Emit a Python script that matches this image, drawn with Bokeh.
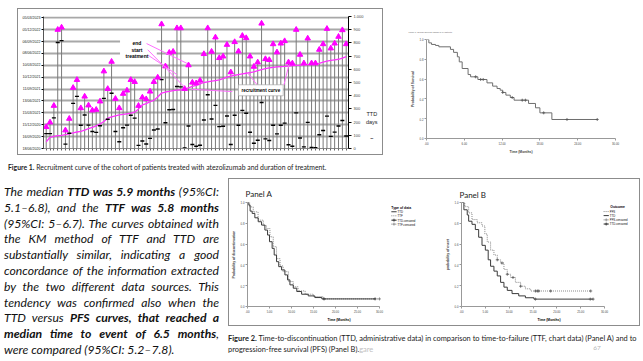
from bokeh.plotting import figure
from bokeh.models import FixedTicker, LinearAxis, Label, BoxAnnotation, Div, ColumnDataSource, Spacer, Title
from bokeh.layouts import row, column
from bokeh.embed import file_html
from bokeh.resources import INLINE

# ---------------- Figure 1: recruitment curve / duration of treatment ----------------
patient = list(range(1, 80))
start_day = [50, 85, 92, 97, 100, 105, 110, 118, 125, 130,
             140, 150, 160, 172, 185, 205, 230, 240, 248, 255,
             258, 263, 268, 275, 300, 330, 340, 355, 365, 390,
             420, 428, 432, 438, 442, 445, 450, 460, 470, 478,
             490, 500, 505, 510, 515, 520, 530, 540, 548, 555,
             560, 565, 570, 575, 580, 590, 598, 605, 610, 615,
             618, 620, 622, 625, 628, 630, 632, 634, 636, 638,
             640, 645, 655, 662, 667, 672, 676, 685, 696]
end_day = [163, 198, 324, 900, 917, 138, 226, 460, 520, 306,
           394, 327, 289, 294, 357, 585, 452, 658, 377, 306,
           415, 440, 520, 505, 324, 387, 374, 432, 505, 538,
           942, 623, 726, 734, 912, 912, 452, 631, 500, 495,
           515, 716, 912, 734, 842, 686, 698, 786, 578, 807,
           736, 854, 837, 698, 620, 653, 947, 678, 671, 791,
           729, 796, 814, 653, 645, 900, 711, 646, 834, 646,
           646, 749, 791, 907, 759, 796, 847, 897, 791]
ttd_day = [113, 113, 232, 803, 817, 33, 116, 342, 395, 176,
           254, 177, 129, 122, 172, 380, 222, 418, 129, 51,
           157, 177, 252, 230, 24, 57, 34, 77, 140, 148,
           522, 195, 294, 296, 470, 467, 5, 171, 30, 17,
           25, 216, 407, 224, 327, 166, 168, 246, 30, 252,
           176, 289, 267, 123, 40, 63, 349, 73, 61, 176,
           111, 176, 192, 28, 17, 270, 79, 12, 198, 8,
           6, 104, 136, 245, 92, 124, 171, 212, 95]
date_ticks = [0, 90, 180, 270, 360, 450, 540, 630, 720, 810, 900, 990]
date_labels = ["18/06/2020", "16/09/2020", "15/12/2020", "15/03/2021", "13/06/2021", "11/09/2021",
               "10/12/2021", "10/03/2022", "08/06/2022", "06/09/2022", "05/12/2022", "05/03/2023"]
day_ticks = [0, 100, 200, 300, 400, 500, 600, 700, 800, 900, 1000]
day_labels = ["0", "100", "200", "300", "400", "500", "600", "700", "800", "900", "1.000"]

# ---------------- Overall survival Kaplan-Meier (74 patients) ----------------
km_t = [0, 0.37, 0.8, 1.43, 1.96, 3.8, 4.3, 4.9, 5.2, 5.66, 6.6, 7.0, 8.15, 9.6, 10.5,
        11.2, 11.7, 12.1, 12.6, 13.3, 13.9, 16.2, 17.3, 18.0, 19.9]
km_s = [1.0, 0.966, 0.95, 0.94, 0.926, 0.90, 0.87, 0.825, 0.774, 0.707, 0.646, 0.623, 0.596, 0.562, 0.529,
        0.505, 0.488, 0.465, 0.438, 0.414, 0.387, 0.354, 0.31, 0.259, 0.192]
km_end = 27.1
km_cens_t = [7.8, 8.6, 9.0, 12.1, 13.6, 15.2, 15.7, 18.6, 22.3, 27.1]
km_cens_s = [0.623, 0.596, 0.596, 0.465, 0.414, 0.387, 0.387, 0.259, 0.192, 0.192]
km_xticks = [0, 6, 12, 18, 24, 30]
km_xlabels = [".00", "6.00", "12.00", "18.00", "24.00", "30.00"]
prob_ticks = [0.0, 0.2, 0.4, 0.6, 0.8, 1.0]
prob_labels = ["0.0", "0.2", "0.4", "0.6", "0.8", "1.0"]

# ---------------- Figure 2, Panel A: TTD vs TTF ----------------
a_ttd_t = [0, 0.3, 0.6, 1.06, 1.67, 2.43, 3.2, 3.95, 4.56, 5.0, 5.6, 6.07, 6.6, 7.1, 7.75, 8.5,
           9.1, 9.64, 10.4, 11.2, 12.3, 13.8, 15.3, 16.9]
a_ttd_s = [1.0, 0.974, 0.917, 0.895, 0.853, 0.815, 0.783, 0.735, 0.687, 0.623, 0.559, 0.495, 0.431, 0.383,
           0.351, 0.304, 0.256, 0.208, 0.176, 0.144, 0.118, 0.102, 0.086, 0.073]
a_ttd_end = 29.0
a_ttf_t = [0, 0.5, 1.3, 2.4, 3.6, 4.3, 5.1, 5.85, 6.6, 7.4, 8.1, 9.3, 10.4, 11.5, 13.1, 15.0, 17.2]
a_ttf_s = [1.0, 0.958, 0.91, 0.83, 0.78, 0.75, 0.67, 0.575, 0.46, 0.39, 0.335, 0.24, 0.19, 0.15, 0.118,
           0.096, 0.073]
a_ttf_end = 30.0
a_ttd_cens_t = [17.4, 29.0]
a_ttd_cens_s = [0.073, 0.073]
a_ttf_cens_t = [30.0]
a_ttf_cens_s = [0.073]

# ---------------- Figure 2, Panel B: TTD vs PFS ----------------
b_ttd_t = [0, 0.5, 1.2, 1.5, 2.2, 2.9, 3.6, 4.3, 5.0, 5.6, 6.1, 6.8, 7.5, 8.2, 8.9, 9.6, 10.6, 12.0, 13.4, 15.2]
b_ttd_s = [1.0, 0.93, 0.88, 0.82, 0.79, 0.74, 0.666, 0.588, 0.542, 0.449, 0.387, 0.34, 0.294, 0.232, 0.186,
           0.155, 0.124, 0.102, 0.084, 0.071]
b_ttd_end = 27.6
b_pfs_t = [0, 0.7, 1.5, 2.2, 3.3, 4.3, 4.9, 5.4, 6.1, 6.8, 7.5, 8.2, 8.9, 9.6, 10.3, 11.3, 12.4, 13.4, 14.5]
b_pfs_s = [1.0, 0.96, 0.90, 0.836, 0.805, 0.774, 0.697, 0.62, 0.542, 0.495, 0.449, 0.418, 0.356, 0.31,
           0.279, 0.232, 0.195, 0.17, 0.149]
b_pfs_end = 27.1
b_ttd_cens_t = [15.5, 27.0, 27.6]
b_ttd_cens_s = [0.071, 0.071, 0.071]
b_pfs_cens_t = [7.5, 8.5, 9.6, 10.8, 12.4, 15.5, 15.9, 16.2, 18.7, 27.1]
b_pfs_cens_s = [0.449, 0.418, 0.31, 0.279, 0.195, 0.149, 0.149, 0.149, 0.149, 0.149]
panel_xticks = [0, 5, 10, 15, 20, 25, 30]
panel_xlabels = [".00", "5.00", "10.00", "15.00", "20.00", "25.00", "30.00"]

para_lines = [
    'The median <b>TTD was 5.9 months</b> (95%CI:',
    '5.1\u20136.8), and the <b>TTF was 5.8 months</b>',
    '(95%CI: 5\u20136.7). The curves obtained with',
    'the KM method of TTF and TTD are',
    'substantially similar, indicating a good',
    'concordance of the information extracted',
    'by the two different data sources. This',
    'tendency was confirmed also when the',
    'TTD versus <b>PFS curves, that reached a</b>',
    '<b>median time to event of 6.5 months</b>,',
    'were compared (95%CI: 5.2\u20137.8).',
]

SANS = "Liberation Sans"
CAP = "Lato"
MAG = "#ff00ff"
BOX = {"outline": "1px solid #8c8c8c", "outline-offset": "-1px"}


def add_label(p, x, y, text, size, bold=False, align="left", color="#000000", font=SANS, **kw):
    p.add_layout(Label(x=x, y=y, text=text, text_font=font, text_font_size=f"{size}px",
                       text_font_style="bold" if bold else "normal", text_align=align,
                       text_baseline="middle", text_color=color, **kw))


def add_title(p, text, side, size, align="left", offset=0, standoff=0, bold=False, font=SANS, color="#000000"):
    p.add_layout(Title(text=text, align=align, offset=offset, standoff=standoff, text_font=font,
                       text_font_size=f"{size}px", text_font_style="bold" if bold else "normal",
                       text_color=color), side)


def html_div(inner, width, height, top, left=0, style=""):
    html = (f'<div style="height:{top}px;margin:0;padding:0;"></div>'
            f'<div style="margin:0 0 0 {left}px;padding:0;{style}">{inner}</div>')
    return Div(text=html, width=width, height=height, margin=(0, 0, 0, 0))


# ======================= Figure 1 =======================
f1 = figure(width=349, height=147, x_range=(0.3, 79.6), y_range=(0, 1000),
            min_border_left=26, min_border_right=16, min_border_top=8, min_border_bottom=7,
            output_backend="svg", toolbar_location=None)
f1.outline_line_color = None
f1.background_fill_color = None
f1.border_fill_color = None
f1.xgrid.visible = False
f1.ygrid.ticker = FixedTicker(ticks=date_ticks)
f1.ygrid.grid_line_color = "#a8a8a8"
f1.ygrid.grid_line_width = 2

ya = f1.yaxis[0]
ya.ticker = FixedTicker(ticks=date_ticks)
ya.major_label_overrides = dict(zip(date_ticks, date_labels))
ya.major_label_text_font_size = "3.6px"
ya.major_label_text_font = SANS
ya.major_label_text_color = "#222222"
ya.major_tick_out = 2
ya.major_tick_in = 0
ya.minor_tick_line_color = None
ya.major_label_standoff = 1
ya.axis_line_color = "#555555"

ra = LinearAxis(ticker=FixedTicker(ticks=day_ticks),
                major_label_overrides=dict(zip(day_ticks, day_labels)))
ra.major_label_text_font_size = "4px"
ra.major_label_text_font = SANS
ra.major_tick_out = 3
ra.major_tick_in = 0
ra.minor_tick_line_color = None
ra.major_label_standoff = 2
f1.add_layout(ra, "right")

xa = f1.xaxis[0]
xa.ticker = FixedTicker(ticks=patient)
xa.major_label_text_font_size = "1px"
xa.major_label_text_alpha = 0
xa.major_label_standoff = 0
xa.major_tick_out = 2
xa.major_tick_in = 0
xa.minor_tick_line_color = None
xa.axis_line_color = "#888888"
xa.major_tick_line_color = "#666666"

# white box hiding the grid behind the call-out
f1.add_layout(BoxAnnotation(left=20.2, right=29.75, bottom=684, top=835, fill_color="white",
                            fill_alpha=1, line_color=None, level="underlay"))

src = ColumnDataSource(dict(patient=patient, start=start_day, end=end_day, ttd=ttd_day))
f1.segment(x0="patient", y0=0, x1="patient", y1="end", source=src, line_color="#7a7a7a", line_width=1)
f1.line("patient", "start", source=src, line_color="#ff33ff", line_width=1.3)
f1.scatter("patient", "ttd", source=src, marker="dash", size=4, line_color="black", line_width=1.4)
f1.scatter("patient", "end", source=src, marker="triangle", size=5.5, fill_color=MAG, line_color=MAG)

# call-out arrows
arrow_x0 = [27.1, 27.4, 27.6, 49.4, 55.9, 62.8]
arrow_y0 = [795, 748, 705, 431, 481, 481]
arrow_x1 = [37.6, 36.8, 35.0, 38.7, 53.3, 64.1]
arrow_y1 = [645, 470, 560, 449, 574, 632]
f1.segment(arrow_x0, arrow_y0, arrow_x1, arrow_y1, line_color="#ff70ff", line_width=1)

for txt, yy in (("end", 799), ("start", 749), ("treatment", 704)):
    add_label(f1, 24.6, yy, txt, 5, bold=True, align="center")
add_label(f1, 56.8, 441, "recruitment curve", 4.6, bold=True, align="center",
          background_fill_color="white", border_line_color="#9a9a9a", border_line_width=0.6, padding=3)

ttd_div = html_div("TTD<br>days<br><br><b>\u2013</b>", 17, 147, 102,
                   style="font-family:'Liberation Sans',sans-serif;font-size:5.5px;line-height:8px;"
                         "text-align:center;color:#222;")
box1 = row(f1, ttd_div, spacing=0, styles=BOX)
cap1 = html_div('<b>Figure 1.</b> Recruitment curve of the cohort of patients treated with atezolizumab '
                'and duration of treatment.', 383, 21, 8, left=8,
                style="font-family:Lato,sans-serif;font-size:6.85px;line-height:8px;white-space:nowrap;color:#222;")
top_left = column(Spacer(width=383, height=8), row(Spacer(width=17, height=147), box1, spacing=0), cap1,
                  spacing=0)


# ======================= KM helpers =======================
def style_axes(p, xt, xl, yt, yl, ylabel):
    p.grid.visible = False
    p.outline_line_color = None
    xa_, ya_ = p.xaxis[0], p.yaxis[0]
    xa_.ticker = FixedTicker(ticks=xt)
    xa_.major_label_overrides = dict(zip(xt, xl))
    ya_.ticker = FixedTicker(ticks=yt)
    ya_.major_label_overrides = dict(zip(yt, yl))
    ya_.axis_label = ylabel
    for a in (xa_, ya_):
        a.axis_line_color = "#999999"
        a.major_tick_line_color = "#999999"
        a.minor_tick_line_color = None
        a.major_tick_out = 2
        a.major_tick_in = 0
        a.major_label_text_font_size = "2.8px"
        a.major_label_text_font = SANS
        a.major_label_standoff = 1
        a.axis_label_text_font_size = "3.4px"
        a.axis_label_text_font_style = "bold"
        a.axis_label_text_font = SANS
        a.axis_label_standoff = 2
    xa_.bounds = (xt[0], xt[-1])
    ya_.bounds = (yt[0], yt[-1])


# ======================= Overall survival KM =======================
km = figure(width=260, height=176, x_range=(0, 30), y_range=(0, 1),
            min_border_left=43, min_border_right=28, min_border_top=39, min_border_bottom=38,
            output_backend="svg", toolbar_location=None)
style_axes(km, km_xticks, km_xlabels, prob_ticks, prob_labels, "Probability of Survival")
km.xaxis[0].axis_label = "Time (Months)"
km.step(km_t + [km_end], km_s + [km_s[-1]], mode="after", line_color="#6e6e6e", line_width=1)
km.scatter(km_cens_t, km_cens_s, marker="cross", size=3, line_color="#555555", line_width=0.8)
add_title(km, "Figure 1. Overall Survival Kaplan of 74 patients", "above", 2.1, offset=-18, standoff=13,
          color="#555555")


# ======================= Panel A =======================
pa = figure(width=206, height=148, x_range=(0, 41.6), y_range=(0, 1),
            min_border_left=19, min_border_right=4, min_border_top=24, min_border_bottom=20,
            output_backend="svg", toolbar_location=None)
pa.background_fill_color = None
pa.border_fill_color = None
style_axes(pa, panel_xticks, panel_xlabels, prob_ticks, prob_labels, "Probability of discontinuation")
pa.step(a_ttf_t + [a_ttf_end], a_ttf_s + [a_ttf_s[-1]], mode="after", line_color="#8a8a8a",
        line_width=1, line_dash="1 1")
pa.step(a_ttd_t + [a_ttd_end], a_ttd_s + [a_ttd_s[-1]], mode="after", line_color="#3a3a3a", line_width=1)
pa.scatter(a_ttd_cens_t, a_ttd_cens_s, marker="cross", size=3, line_color="#333333", line_width=0.8)
pa.scatter(a_ttf_cens_t, a_ttf_cens_s, marker="cross", size=3, line_color="#777777", line_width=0.8)
add_title(pa, "Panel A", "above", 8, offset=-2, standoff=7, font=CAP, color="#222222")
add_title(pa, "Time (Months)", "below", 3.4, align="center", offset=-25.5, standoff=1, bold=True)
add_label(pa, 32.7, 0.949, "Type of data", 3.4, bold=True)
leg_a = [("TTD", 0.911, "#3a3a3a", "solid", False), ("TTF", 0.872, "#8a8a8a", "1 1", False),
         ("TTD-censored", 0.830, "#3a3a3a", "solid", True), ("TTF-censored", 0.792, "#8a8a8a", "1 1", True)]
for name, yy, col, dash, mk in leg_a:
    pa.line([32.7, 33.9], [yy, yy], line_color=col, line_width=1, line_dash=dash)
    if mk:
        pa.scatter([33.3], [yy], marker="cross", size=3, line_color=col, line_width=0.8)
    add_label(pa, 34.1, yy, name, 2.8)


# ======================= Panel B =======================
pb = figure(width=206, height=148, x_range=(0, 36.7), y_range=(0, 1),
            min_border_left=27, min_border_right=4, min_border_top=21, min_border_bottom=20,
            output_backend="svg", toolbar_location=None)
pb.background_fill_color = None
pb.border_fill_color = None
style_axes(pb, panel_xticks, panel_xlabels, prob_ticks, prob_labels, "probability of event")
pb.step(b_pfs_t + [b_pfs_end], b_pfs_s + [b_pfs_s[-1]], mode="after", line_color="#8a8a8a",
        line_width=1, line_dash="1 1")
pb.step(b_ttd_t + [b_ttd_end], b_ttd_s + [b_ttd_s[-1]], mode="after", line_color="#3a3a3a", line_width=1)
pb.scatter(b_pfs_cens_t, b_pfs_cens_s, marker="cross", size=3, line_color="#555555", line_width=0.8)
pb.scatter(b_ttd_cens_t, b_ttd_cens_s, marker="cross", size=3, line_color="#555555", line_width=0.8)
add_title(pb, "Panel B", "above", 8, offset=-2, standoff=6, font=CAP, color="#222222")
add_title(pb, "Time (Months)", "below", 3.4, align="center", offset=-16.8, standoff=1, bold=True)
add_label(pb, 31.2, 0.960, "Outcome", 3.4, bold=True)
leg_b = [("PFS", 0.913, "#8a8a8a", "1 1", False), ("TTD", 0.874, "#3a3a3a", "solid", False),
         ("PFS-censored", 0.833, "#8a8a8a", "1 1", True), ("TTD-censored", 0.793, "#3a3a3a", "solid", True)]
for name, yy, col, dash, mk in leg_b:
    pb.line([29.8, 30.9], [yy, yy], line_color=col, line_width=1, line_dash=dash)
    if mk:
        pb.scatter([30.35], [yy], marker="cross", size=3, line_color=col, line_width=0.8)
    add_label(pb, 31.1, yy, name, 2.8)

box2 = row(pa, pb, spacing=0, styles=BOX)

# ======================= Text blocks =======================
rows_html = []
for i, ln in enumerate(para_lines):
    last = i == len(para_lines) - 1
    align = "left" if last else "justify"
    rows_html.append(f'<div style="white-space:nowrap;text-align:{align};text-align-last:{align};">{ln}</div>')
para = html_div("".join(rows_html), 228, 185, 8, left=4,
                style="font-family:Lato,sans-serif;font-style:italic;font-size:12.2px;line-height:15.8px;"
                      "color:#111;width:215px;")

cap2 = html_div('<b>Figure 2.</b> Time-to-discontinuation (TTD, administrative data) in comparison to '
                'time-to-failure (TTF, chart data) (Panel A) and to<br>'
                'progression-free survival (PFS) (Panel B).<span style="color:#c0c0c0;">gare</span>'
                '<span style="position:relative;left:220px;top:-2px;color:#b5b5b5;font-size:6.5px;">67</span>',
                415, 35, 6.5, left=0,
                style="font-family:Lato,sans-serif;font-size:7.45px;line-height:11px;color:#222;"
                      "white-space:nowrap;")

for f in (f1, km, pa, pb):
    f.margin = (0, 0, 0, 0)

right_bottom = column(Spacer(width=415, height=2), box2, cap2, spacing=0)
layout = column(
    row(top_left, km, spacing=0),
    row(para, right_bottom, spacing=0),
    spacing=0,
)

open("out.html", "w").write(file_html(layout, INLINE))
